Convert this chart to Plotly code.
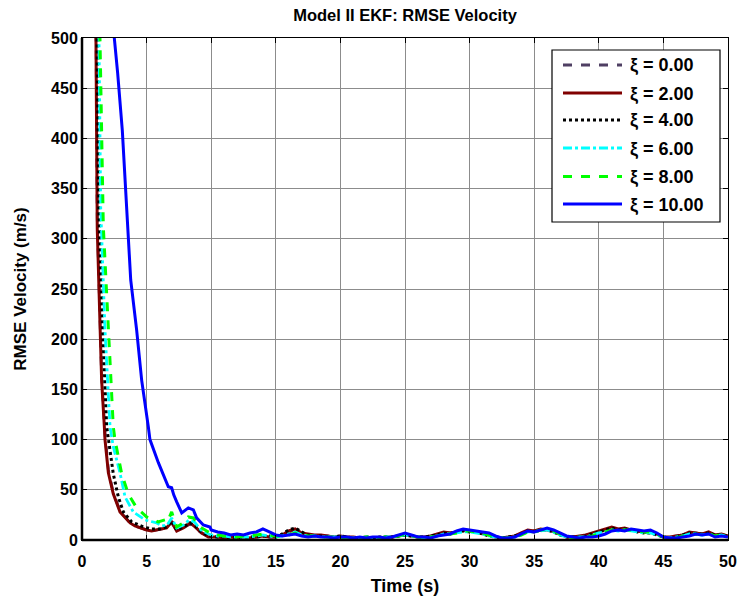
import numpy as np
import plotly.graph_objects as go

# ---------------- data ----------------
labels = ["ξ = 0.00", "ξ = 2.00", "ξ = 4.00", "ξ = 6.00", "ξ = 8.00", "ξ = 10.00"]

# early (transient) part, per series
t0_early = [1.0, 1.08, 1.18, 1.39, 1.52, 1.73, 1.8, 2.04, 2.42, 2.94, 3.4, 3.72, 4.1, 4.49, 5.0, 5.39, 5.8, 6.17, 6.55, 6.94, 7.33, 7.84, 8.36, 8.75, 9.26, 9.78]
v0_early = [900, 520, 320, 215, 162, 116, 103, 70, 47, 29, 22, 17, 14, 12, 10, 9, 10, 11, 12, 17, 10, 12, 16, 12, 7, 4]

t2_early = [1.0, 1.08, 1.18, 1.39, 1.52, 1.73, 1.78, 2.04, 2.42, 2.94, 3.4, 3.72, 4.1, 4.49, 5.0, 5.39, 5.8, 6.17, 6.55, 6.94, 7.33, 7.84, 8.36, 8.75, 9.26, 9.78]
v2_early = [900, 500, 310, 209, 159, 113, 100, 67, 46, 28, 21, 17, 14, 12, 10, 9, 10, 11, 12, 18, 9, 12, 17, 13, 7, 3]

t4_early = [1.0, 1.16, 1.3, 1.6, 1.91, 2.04, 2.42, 2.81, 3.2, 3.85, 4.75, 5.4, 6.0, 6.55, 6.94, 7.33, 7.84, 8.36, 8.75, 9.26, 9.78]
v4_early = [900, 500, 330, 209, 113, 100, 66, 43, 28, 18, 13, 11, 11, 13, 19, 10, 13, 17, 14, 8, 4]

t6_early = [1.0, 1.3, 1.45, 1.78, 2.17, 2.42, 2.94, 3.33, 3.97, 4.88, 5.78, 6.2, 6.6, 6.94, 7.33, 7.84, 8.3, 8.7, 9.2, 9.8]
v6_early = [900, 500, 330, 209, 113, 93, 67, 43, 28, 20, 17, 14, 15, 22, 12, 15, 20, 18, 10, 6]

t8_early = [1.0, 1.39, 1.65, 2.04, 2.42, 2.55, 2.81, 3.07, 3.58, 4.23, 5.0, 5.9, 6.42, 6.6, 6.94, 7.33, 7.84, 8.23, 8.62, 9.13, 9.78]
v8_early = [900, 500, 312, 209, 113, 100, 83, 66, 46, 32, 23, 18, 20, 18, 28, 13, 17, 23, 22, 13, 8]

t10_early = [1.0, 2.0, 2.5, 2.76, 3.12, 3.33, 3.58, 3.64, 3.77, 4.23, 4.62, 5.13, 5.26, 5.91, 6.68, 6.94, 7.1, 7.33, 7.72, 8.23, 8.62, 8.87, 9.39, 9.9]
v10_early = [2000, 800, 500, 465, 408, 359, 312, 286, 259, 209, 159, 113, 100, 77, 53, 52, 45, 38, 27, 32, 30, 22, 15, 13]

# steady-state part, common time grid (10 s .. 50 s every 0.5 s)
t_tail = list(np.arange(10.0, 50.01, 0.5))

v0_tail = [3, 3, 2, 3, 3, 2, 3, 3, 4, 3, 3, 5, 8, 10, 7, 5, 5, 4, 4, 3, 3, 3, 3, 2, 3, 2, 2, 3, 3, 4, 5, 4, 3, 3, 4, 5, 7, 7, 8, 9, 9, 8, 6, 5, 3, 2, 3, 4, 6, 9, 9, 10, 10, 8, 6, 3, 3, 4, 5, 6, 8, 10, 12, 11, 11, 10, 9, 8, 7, 6, 3, 3, 4, 5, 7, 7, 6, 7, 5, 5, 4]
v2_tail = [3, 3, 2, 3, 2, 3, 2, 3, 4, 3, 3, 5, 9, 11, 7, 6, 5, 5, 4, 3, 4, 3, 3, 2, 3, 2, 2, 3, 3, 4, 5, 4, 3, 3, 4, 6, 8, 7, 8, 10, 9, 8, 7, 5, 3, 2, 3, 4, 7, 10, 9, 11, 10, 9, 6, 3, 3, 4, 5, 7, 9, 11, 13, 11, 12, 10, 9, 8, 8, 6, 3, 3, 4, 5, 8, 7, 6, 8, 5, 6, 4]
v4_tail = [4, 3, 3, 2, 3, 2, 3, 3, 4, 4, 3, 6, 10, 12, 8, 5, 4, 4, 3, 3, 4, 3, 2, 2, 3, 2, 3, 3, 3, 4, 5, 4, 3, 3, 4, 5, 7, 6, 8, 9, 8, 8, 6, 4, 3, 2, 3, 4, 6, 9, 8, 10, 10, 8, 5, 3, 3, 3, 4, 6, 8, 10, 12, 10, 11, 10, 8, 7, 7, 5, 3, 2, 3, 5, 7, 6, 6, 7, 5, 5, 4]
v6_tail = [5, 4, 4, 3, 3, 3, 3, 4, 5, 4, 3, 4, 6, 8, 5, 4, 4, 3, 3, 3, 3, 2, 2, 2, 3, 2, 2, 3, 3, 4, 5, 4, 3, 2, 3, 4, 6, 6, 7, 8, 8, 7, 6, 4, 3, 2, 2, 3, 5, 8, 8, 9, 10, 8, 5, 3, 2, 3, 3, 5, 7, 8, 10, 9, 10, 9, 8, 7, 7, 5, 3, 2, 3, 4, 6, 6, 5, 6, 4, 5, 3]
v8_tail = [6, 5, 4, 4, 3, 4, 4, 5, 6, 5, 4, 4, 5, 7, 5, 4, 4, 3, 3, 2, 3, 2, 2, 2, 3, 2, 2, 3, 3, 4, 6, 4, 3, 2, 3, 4, 6, 6, 7, 9, 9, 8, 7, 5, 3, 2, 2, 3, 5, 8, 8, 10, 11, 9, 6, 3, 2, 3, 3, 4, 6, 8, 10, 9, 10, 10, 9, 8, 8, 6, 3, 2, 2, 4, 5, 6, 5, 6, 4, 5, 3]
v10_tail = [10, 8, 7, 5, 6, 5, 7, 8, 11, 8, 5, 4, 5, 6, 4, 3, 4, 3, 3, 2, 3, 3, 2, 3, 2, 3, 3, 2, 3, 5, 7, 5, 3, 3, 2, 4, 5, 6, 9, 11, 10, 9, 8, 7, 4, 2, 2, 3, 6, 9, 8, 10, 12, 10, 7, 4, 3, 2, 3, 3, 4, 6, 9, 10, 9, 11, 10, 9, 10, 7, 3, 2, 2, 3, 4, 6, 5, 6, 3, 4, 3]

colors = ["#4f3f63", "#800000", "#000000", "#00ffff", "#00ff00", "#0000ff"]
dashes = ["dash", "solid", "dot", "dashdot", "dash", "solid"]
widths = [2.8, 3, 3, 2.8, 3, 3]

series = [
    (t0_early, v0_early, v0_tail),
    (t2_early, v2_early, v2_tail),
    (t4_early, v4_early, v4_tail),
    (t6_early, v6_early, v6_tail),
    (t8_early, v8_early, v8_tail),
    (t10_early, v10_early, v10_tail),
]

fig = go.Figure()
for (te, ve, vt), name, c, d, w in zip(series, labels, colors, dashes, widths):
    assert len(te) == len(ve) and len(vt) == len(t_tail)
    fig.add_trace(go.Scatter(
        x=list(te) + t_tail,
        y=list(ve) + vt,
        mode="lines", name=name,
        line=dict(color=c, dash=d, width=w),
        showlegend=False,
    ))

# ---------------- layout ----------------
W, H = 741, 598
L, R, T, B = 82, 728, 38, 540   # plot-area pixel box
font_family = "Liberation Sans, Arial, sans-serif"

def px2paper(px, py):
    return (px - L) / (R - L), (B - py) / (B - T)

axis_common = dict(
    showgrid=True, gridcolor="#8c8c8c", gridwidth=1,
    showline=True, linecolor="black", linewidth=1, mirror="ticks",
    ticks="inside", ticklen=5, tickwidth=1, tickcolor="black",
    zeroline=False, automargin=False,
    tickfont=dict(family=font_family, size=16, color="black", weight="bold"),
)

fig.update_layout(
    width=W, height=H, autosize=False,
    margin=dict(l=L, r=W - R, t=T, b=H - B, pad=0),
    paper_bgcolor="white", plot_bgcolor="white",
    font=dict(family=font_family, color="black"),
    title=dict(text="<b>Model II EKF: RMSE Velocity</b>", x=(L + R) / 2 / W, xanchor="center",
               y=1 - 15 / H, yanchor="middle",
               font=dict(family=font_family, size=16.5, color="black")),
    xaxis=dict(range=[0, 50], tickmode="array", tickvals=list(range(0, 51, 5)),
               ticklabelstandoff=7,
               title=dict(text="<b>Time (s)</b>", standoff=10,
                          font=dict(family=font_family, size=18, color="black")),
               **axis_common),
    yaxis=dict(range=[0, 500], tickmode="array", tickvals=list(range(0, 501, 50)),
               title=dict(text="<b>RMSE Velocity (m/s)</b>", standoff=20,
                          font=dict(family=font_family, size=17, color="black")),
               **axis_common),
    showlegend=False,
)

# thicker left and bottom axis lines (MATLAB-like)
fig.add_shape(type="line", xref="paper", yref="paper", x0=0, x1=0, y0=0, y1=1,
              line=dict(color="black", width=2.5))
fig.add_shape(type="line", xref="paper", yref="paper", x0=0, x1=1, y0=0, y1=0,
              line=dict(color="black", width=2.5))

# ---------------- legend (drawn manually, MATLAB style) ----------------
bx0, by0 = px2paper(552, 50)
bx1, by1 = px2paper(720, 222)
fig.add_shape(type="rect", xref="paper", yref="paper", x0=bx0, y0=by1, x1=bx1, y1=by0,
              line=dict(color="black", width=1.2), fillcolor="white", layer="above")
row_y = [65, 93, 120, 148, 176.5, 204]
for yy, name, c, d, w in zip(row_y, labels, colors, dashes, widths):
    lx0, ly = px2paper(563, yy)
    lx1, _ = px2paper(622, yy)
    fig.add_shape(type="line", xref="paper", yref="paper", x0=lx0, x1=lx1, y0=ly, y1=ly,
                  line=dict(color=c, dash=d, width=w), layer="above")
    tx, ty = px2paper(628, yy + 1)
    fig.add_annotation(xref="paper", yref="paper", x=tx, y=ty, xanchor="left", yanchor="middle",
                       text="<b>" + name + "</b>", showarrow=False,
                       font=dict(family=font_family, size=18, color="black"))

fig.write_html("out.html")
